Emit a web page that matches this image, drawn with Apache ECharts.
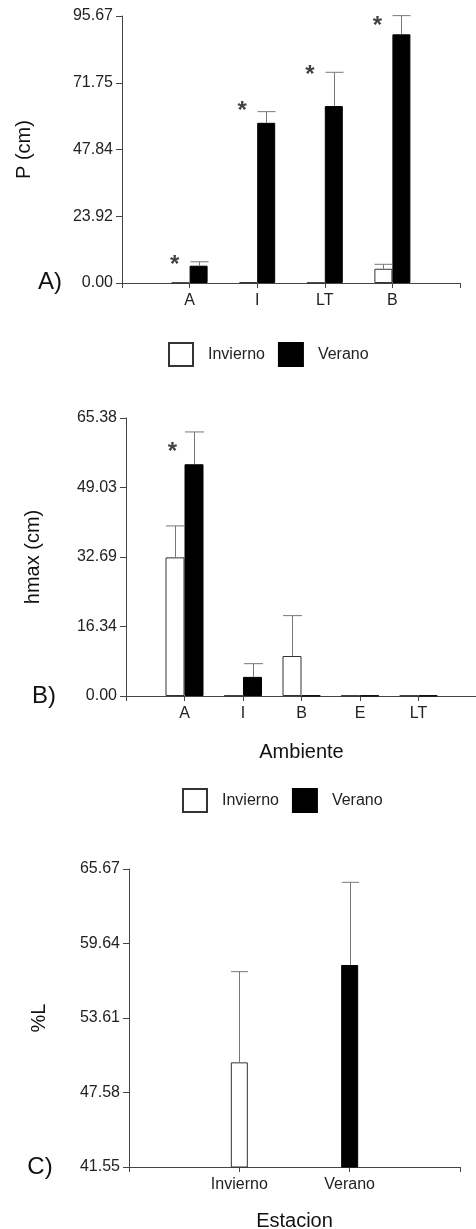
<!DOCTYPE html>
<html>
<head>
<meta charset="utf-8">
<script src="https://cdn.jsdelivr.net/npm/echarts@6/dist/echarts.min.js"></script>
<style>
  html, body { margin: 0; padding: 0; background: #fff; }
  #main { width: 476px; height: 1229px; }
</style>
</head>
<body>
<div id="main"></div>
<script>
// panel A: P (cm)
var catsA = ['A', 'I', 'LT', 'B'];
var invA = [0.1, 0.3, 0.1, 5.1];
var invAErr = [0, 0, 0, 1.6];
var verA = [6.2, 57.4, 63.4, 89.1];
var verAErr = [1.4, 4.0, 12.1, 6.7];
var starsA = [7.5, 62.7, 75.6, 93.2];
var ticksA = [0, 23.92, 47.84, 71.75, 95.67];

// panel B: hmax (cm)
var catsB = ['A', 'I', 'B', 'E', 'LT'];
var invB = [32.6, 0.1, 9.4, 0.1, 0.1];
var invBErr = [7.4, 0, 9.5, 0, 0];
var verB = [54.5, 4.5, 0.1, 0.1, 0.1];
var verBErr = [7.6, 3.1, 0, 0, 0];
var starsB = [58.1, null, null, null, null];
var ticksB = [0, 16.34, 32.69, 49.03, 65.38];

// panel C: %L
var catsC = ['Invierno', 'Verano'];
var valC = [50.02, 57.9];
var errC = [7.34, 6.69];
var ticksC = [41.55, 47.58, 53.61, 59.64, 65.67];

var FONT = "'Liberation Sans', Arial, sans-serif";
var AXIS = '#444';
var ERR = '#777';

function padCats(c) { return [''].concat(c).concat(['']); }
function padVals(v) { return ['-'].concat(v).concat(['-']); }
function errData(v, e) {
	var out = [];
	for (var i = 0; i < v.length; i++) {
		if (e[i] > 0) out.push([i + 1, v[i], v[i] + e[i]]);
	}
	return out;
}
function starData(s) {
	var out = [];
	for (var i = 0; i < s.length; i++) {
		if (s[i] != null) out.push([i + 1, s[i]]);
	}
	return out;
}
// error bar: vertical line from bar top + cap as wide as the bar
function errRender(dx, bw) {
	return function (params, api) {
		var p0 = api.coord([api.value(0), api.value(1)]);
		var p1 = api.coord([api.value(0), api.value(2)]);
		var cx = Math.round(p0[0] + dx) + 0.5;
		return {
			type: 'group',
			children: [
				{ type: 'line', shape: { x1: cx, y1: p0[1], x2: cx, y2: p1[1] }, style: { stroke: ERR, lineWidth: 1 } },
				{ type: 'line', shape: { x1: cx - bw / 2, y1: p1[1], x2: cx + bw / 2, y2: p1[1] }, style: { stroke: ERR, lineWidth: 1 } }
			]
		};
	};
}

function xAxisOf(idx, cats, name, gap) {
	return {
		type: 'category',
		gridIndex: idx,
		data: padCats(cats),
		boundaryGap: false,
		name: name,
		nameLocation: 'middle',
		nameGap: gap,
		nameTextStyle: { fontFamily: FONT, fontSize: 20, color: '#111' },
		axisLine: { lineStyle: { color: AXIS, width: 1 } },
		axisTick: { show: true, interval: 0, length: 5, lineStyle: { color: AXIS } },
		axisLabel: { interval: 0, margin: 10, fontFamily: FONT, fontSize: 16, color: '#222' },
		splitLine: { show: false }
	};
}
function yAxisOf(idx, ticks, name, gap) {
	return {
		type: 'value',
		gridIndex: idx,
		min: ticks[0],
		max: ticks[ticks.length - 1],
		name: name,
		nameLocation: 'middle',
		nameRotate: 90,
		nameGap: gap,
		nameTextStyle: { fontFamily: FONT, fontSize: 20, color: '#111' },
		axisLine: { show: true, lineStyle: { color: AXIS, width: 1 } },
		axisTick: { show: true, length: 6, customValues: ticks, lineStyle: { color: AXIS } },
		axisLabel: {
			customValues: ticks, margin: 9, fontFamily: FONT, fontSize: 16, color: '#222',
			formatter: function (v) { return v.toFixed(2); }
		},
		splitLine: { show: false }
	};
}
function starSeries(idx, data, dx) {
	return {
		type: 'scatter', xAxisIndex: idx, yAxisIndex: idx,
		symbolSize: 0, data: data, silent: true,
		label: {
			show: true, position: 'inside', formatter: '*', offset: [dx, 3],
			fontFamily: FONT, fontSize: 24, fontWeight: 'bold', color: '#111'
		}
	};
}

var invStyle = { color: '#fff', borderColor: '#333', borderWidth: 1 };
var verStyle = { color: '#000', borderColor: '#000', borderWidth: 1 };
var bwA = 18, bwB = 19, bwC = 17;

var legendBase = {
	data: ['Invierno', 'Verano'], padding: 0, icon: 'rect',
	itemWidth: 24, itemHeight: 23, itemGap: 13,
	textStyle: { fontFamily: FONT, fontSize: 16, color: '#222', padding: [0, 0, 0, 10] }
};

var myChart = echarts.init(document.getElementById('main'));
var option = {
	backgroundColor: '#fff',
	animation: false,
	textStyle: { fontFamily: FONT },
	grid: [
		{ left: 122, top: 16, width: 338, height: 267, outerBoundsMode: 'none' },
		{ left: 126, top: 418, width: 351, height: 278, outerBoundsMode: 'none' },
		{ left: 129, top: 869, width: 331, height: 298, outerBoundsMode: 'none' }
	],
	legend: [
		Object.assign({}, legendBase, { left: 168, top: 342 }),
		Object.assign({}, legendBase, { left: 182, top: 788 })
	],
	xAxis: [
		xAxisOf(0, catsA, '', 0),
		xAxisOf(1, catsB, 'Ambiente', 46),
		xAxisOf(2, catsC, 'Estacion', 44)
	],
	yAxis: [
		yAxisOf(0, ticksA, 'P (cm)', 88),
		yAxisOf(1, ticksB, 'hmax (cm)', 83),
		yAxisOf(2, ticksC, '%L', 80)
	],
	graphic: [
		{ type: 'text', x: 50, y: 282, style: { text: 'A)', fontFamily: FONT, fontSize: 24, fill: '#111', align: 'center', verticalAlign: 'middle' } },
		{ type: 'text', x: 44, y: 696, style: { text: 'B)', fontFamily: FONT, fontSize: 24, fill: '#111', align: 'center', verticalAlign: 'middle' } },
		{ type: 'text', x: 40, y: 1167, style: { text: 'C)', fontFamily: FONT, fontSize: 24, fill: '#111', align: 'center', verticalAlign: 'middle' } }
	],
	series: [
		// A
		{ name: 'Invierno', type: 'bar', xAxisIndex: 0, yAxisIndex: 0, barWidth: bwA, barGap: '0%', data: padVals(invA), itemStyle: invStyle },
		{ name: 'Verano', type: 'bar', xAxisIndex: 0, yAxisIndex: 0, barWidth: bwA, barGap: '0%', data: padVals(verA), itemStyle: verStyle },
		{ type: 'custom', xAxisIndex: 0, yAxisIndex: 0, data: errData(invA, invAErr), renderItem: errRender(-bwA / 2, bwA), z: 3, silent: true },
		{ type: 'custom', xAxisIndex: 0, yAxisIndex: 0, data: errData(verA, verAErr), renderItem: errRender(bwA / 2, bwA), z: 3, silent: true },
		starSeries(0, starData(starsA), -15),
		// B
		{ name: 'Invierno', type: 'bar', xAxisIndex: 1, yAxisIndex: 1, barWidth: bwB, barGap: '0%', data: padVals(invB), itemStyle: invStyle },
		{ name: 'Verano', type: 'bar', xAxisIndex: 1, yAxisIndex: 1, barWidth: bwB, barGap: '0%', data: padVals(verB), itemStyle: verStyle },
		{ type: 'custom', xAxisIndex: 1, yAxisIndex: 1, data: errData(invB, invBErr), renderItem: errRender(-bwB / 2, bwB), z: 3, silent: true },
		{ type: 'custom', xAxisIndex: 1, yAxisIndex: 1, data: errData(verB, verBErr), renderItem: errRender(bwB / 2, bwB), z: 3, silent: true },
		starSeries(1, starData(starsB), -12),
		// C
		{ name: 'Invierno', type: 'bar', xAxisIndex: 2, yAxisIndex: 2, barWidth: bwC, barGap: '-100%', data: padVals([valC[0], '-']), itemStyle: invStyle },
		{ name: 'Verano', type: 'bar', xAxisIndex: 2, yAxisIndex: 2, barWidth: bwC, barGap: '-100%', data: padVals(['-', valC[1]]), itemStyle: verStyle },
		{ type: 'custom', xAxisIndex: 2, yAxisIndex: 2, data: errData(valC, errC), renderItem: errRender(0, bwC), z: 3, silent: true }
	]
};
myChart.setOption(option);
</script>
</body>
</html>
